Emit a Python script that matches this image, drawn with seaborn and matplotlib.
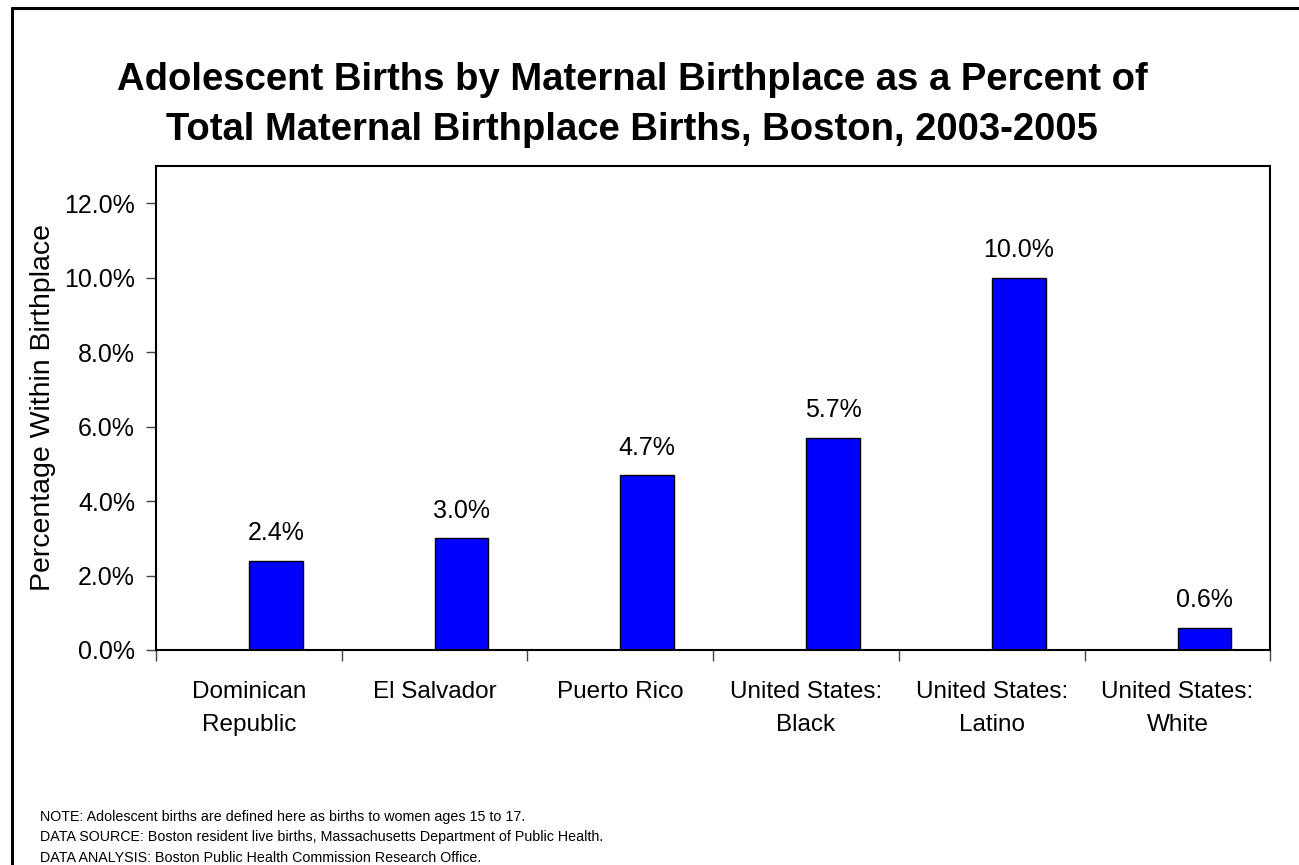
import matplotlib
matplotlib.use("Agg")
import matplotlib.pyplot as plt
from matplotlib.lines import Line2D
import seaborn as sns
import pandas as pd

# Data
birthplaces = ["Dominican\nRepublic", "El Salvador", "Puerto Rico",
               "United States:\nBlack", "United States:\nLatino", "United States:\nWhite"]
pct_adolescent = [2.4, 3.0, 4.7, 5.7, 10.0, 0.6]
y_ticks = [0, 2, 4, 6, 8, 10, 12]
y_tick_labels = ["0.0%", "2.0%", "4.0%", "6.0%", "8.0%", "10.0%", "12.0%"]

title_lines = ["Adolescent Births by Maternal Birthplace as a Percent of",
               "Total Maternal Birthplace Births, Boston, 2003-2005"]
notes = ["NOTE: Adolescent births are defined here as births to women ages 15 to 17.",
         "DATA SOURCE: Boston resident live births, Massachusetts Department of Public Health.",
         "DATA ANALYSIS: Boston Public Health Commission Research Office."]

sns.set_style("white")
plt.rcParams['font.family'] = ['Liberation Sans', 'DejaVu Sans']
for key in ['text.color', 'axes.labelcolor', 'xtick.color', 'ytick.color']:
    plt.rcParams[key] = 'black'

# Excel-style layout: the bars sit in the right half of each category slot
df = pd.DataFrame({"Birthplace": birthplaces, "Percent": pct_adolescent, "Series": "Births"})

fig = plt.figure(figsize=(12.99, 8.65), dpi=100)
ax = fig.add_axes([0.120, 0.2486, 0.858, 0.5595])

sns.barplot(data=df, x="Birthplace", y="Percent", hue="Series", hue_order=["", "Births"],
            palette={"": "#0000FF", "Births": "#0000FF"}, edgecolor="black", linewidth=1,
            width=0.58, saturation=1, dodge=True, legend=False, ax=ax)

ax.bar_label(ax.containers[-1], labels=[f"{v:.1f}%" for v in pct_adolescent],
             padding=11, fontsize=18)

ax.set_ylim(0, 13)
ax.set_xlim(-0.5, len(birthplaces) - 0.5)
ax.set_yticks(y_ticks)
ax.set_yticklabels(y_tick_labels)
ax.set_xlabel("")
ax.set_ylabel("Percentage Within Birthplace", fontsize=20.5, labelpad=6)

# category boundaries carry the tick marks, labels sit at the centres
ax.set_xticks([i - 0.5 for i in range(len(birthplaces) + 1)], minor=True)
ax.tick_params(axis='x', which='minor', length=8, width=1, color='#444444', direction='out', bottom=True)
ax.tick_params(axis='x', which='major', length=0, pad=22, labelsize=17.5)
ax.tick_params(axis='y', which='major', length=7, width=1, color='#444444', direction='out',
               left=True, pad=8, labelsize=18)
for lbl in ax.get_xticklabels():
    lbl.set_linespacing(1.7)

for side in ['left', 'bottom', 'right', 'top']:
    ax.spines[side].set_visible(True)
    ax.spines[side].set_color('black')
    ax.spines[side].set_linewidth(1.5)

for i, line in enumerate(title_lines):
    fig.text(632 / 1299, 1 - (80 + i * 50) / 865, line, ha='center', va='center',
             fontsize=27.5, fontweight='bold')

for i, line in enumerate(notes):
    fig.text(40 / 1299, 1 - (817 + i * 20.5) / 865, line, va='center', ha='left', fontsize=10.3)

# outer frame (cut off on the right and bottom edges in the original)
fig.add_artist(Line2D([12 / 1299, 12 / 1299], [0, 1 - 8 / 865], color='black', lw=2.2,
                      transform=fig.transFigure))
fig.add_artist(Line2D([12 / 1299, 1], [1 - 8 / 865, 1 - 8 / 865], color='black', lw=2.2,
                      transform=fig.transFigure))

fig.savefig("out.png", dpi=100)
